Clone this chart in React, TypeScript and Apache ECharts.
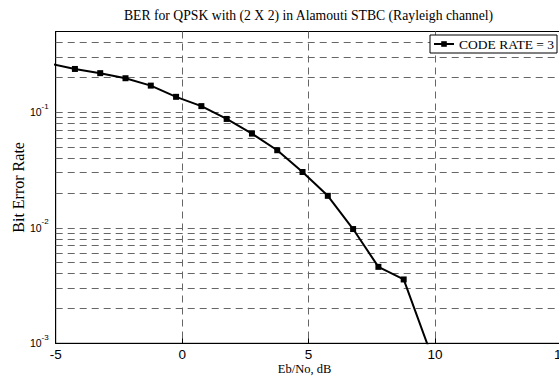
import { useEffect, useRef } from "react";
import * as echarts from "echarts";

// Eb/No (dB) sample points and the measured bit error rate at each
const ebNo = [-5.24, -4.24, -3.24, -2.24, -1.24, -0.24, 0.76, 1.76, 2.76, 3.76, 4.76, 5.76, 6.76, 7.76, 8.76, 9.76];
const ber = [0.264, 0.237, 0.218, 0.197, 0.17, 0.136, 0.113, 0.0875, 0.0653, 0.0469, 0.0304, 0.0189, 0.00975, 0.00459, 0.00357, 0.0009];

const seriesName = "CODE RATE = 3";
const titleText = "BER for QPSK with (2 X 2) in Alamouti STBC (Rayleigh channel)";
const xName = "Eb/No, dB";
const yName = "Bit Error Rate";

// log-grid decades and the mantissas drawn inside each decade
const decades = [0.001, 0.01, 0.1];
const mantissas = [1, 2, 3, 4, 5, 6, 7, 8, 9];

const SERIF = "'Liberation Serif', 'Times New Roman', serif";
const SANS = "'Liberation Sans', Arial, sans-serif";

export default function App() {
  const ref = useRef<HTMLDivElement>(null);

  useEffect(() => {
    if (!ref.current) return;
    const chart = echarts.init(ref.current, null, { renderer: "svg" });

    const yMin = 0.001;
    const yMax = 0.5;
    const levels: number[] = [];
    decades.forEach((d) => {
      mantissas.forEach((m) => {
        const v = +(d * m).toPrecision(6);
        if (v > yMin * 1.0001 && v < yMax * 0.9999 && levels.indexOf(v) < 0) levels.push(v);
      });
    });

    chart.setOption({
      animation: false,
      backgroundColor: "#fff",
      title: {
        text: titleText,
        left: "center",
        top: 8,
        padding: 0,
        textStyle: { fontFamily: SERIF, fontSize: 13.7, fontWeight: "normal", color: "#000" },
      },
      legend: {
        data: [seriesName],
        right: 60,
        top: 35,
        z: 20,
        padding: [2, 3, 2, 3],
        borderColor: "#000",
        borderWidth: 1,
        backgroundColor: "#fff",
        itemWidth: 20,
        itemHeight: 7,
        itemGap: 4,
        textStyle: { fontFamily: SERIF, fontSize: 13.5, color: "#000" },
      },
      grid: {
        left: 55.7,
        right: 55.5,
        top: 31.5,
        bottom: 35.7,
        containLabel: false,
        outerBoundsMode: "none",
        show: true,
        borderColor: "#000",
        borderWidth: 1,
        backgroundColor: "#fff",
      },
      xAxis: {
        type: "value",
        min: -5,
        max: 15,
        interval: 5,
        name: xName,
        nameLocation: "middle",
        nameGap: 19,
        nameMoveOverlap: false,
        nameTextStyle: { fontFamily: SERIF, fontSize: 12.5, color: "#000", padding: [0, 8, 0, 0] },
        axisLine: { show: true, onZero: false, lineStyle: { color: "#000", width: 1 } },
        axisTick: { show: true, inside: true, length: 5, lineStyle: { color: "#000" } },
        axisLabel: { fontFamily: SANS, fontSize: 13.5, color: "#000", margin: 4 },
        splitLine: { show: true, lineStyle: { color: "#666", type: [7, 5], width: 1 } },
      },
      yAxis: {
        type: "log",
        logBase: 10,
        min: yMin,
        max: yMax,
        name: yName,
        nameLocation: "middle",
        nameGap: 29,
        nameMoveOverlap: false,
        nameTextStyle: { fontFamily: SERIF, fontSize: 16, color: "#000" },
        axisLine: { show: true, onZero: false, lineStyle: { color: "#000", width: 1 } },
        axisTick: { show: false },
        splitLine: { show: false },
        axisLabel: {
          margin: 7,
          color: "#000",
          formatter: (v: number) => {
            const e = Math.log10(v);
            const r = Math.round(e);
            if (Math.abs(e - r) > 1e-6) return "";
            return `{b|10}{s|${r}}`;
          },
          rich: {
            b: { fontFamily: SANS, fontSize: 10.5, lineHeight: 20, color: "#000" },
            s: { fontFamily: SANS, fontSize: 8, verticalAlign: "top", lineHeight: 8, color: "#000" },
          },
        },
      },
      series: [
        {
          name: seriesName,
          type: "line",
          data: ebNo.map((x, i) => [x, ber[i]]),
          symbol: "rect",
          symbolSize: 6,
          clip: true,
          itemStyle: { color: "#000" },
          lineStyle: { color: "#000", width: 2 },
          z: 5,
          markLine: {
            silent: true,
            symbol: "none",
            precision: 10,
            label: { show: false },
            animation: false,
            lineStyle: { color: "#666", type: [7, 5], width: 1 },
            data: levels.map((v) => ({ yAxis: v })),
          },
        },
      ],
    });

    return () => chart.dispose();
  }, []);

  return <div ref={ref} style={{ position: "fixed", left: 0, top: 0, width: 617, height: 379 }} />;
}
